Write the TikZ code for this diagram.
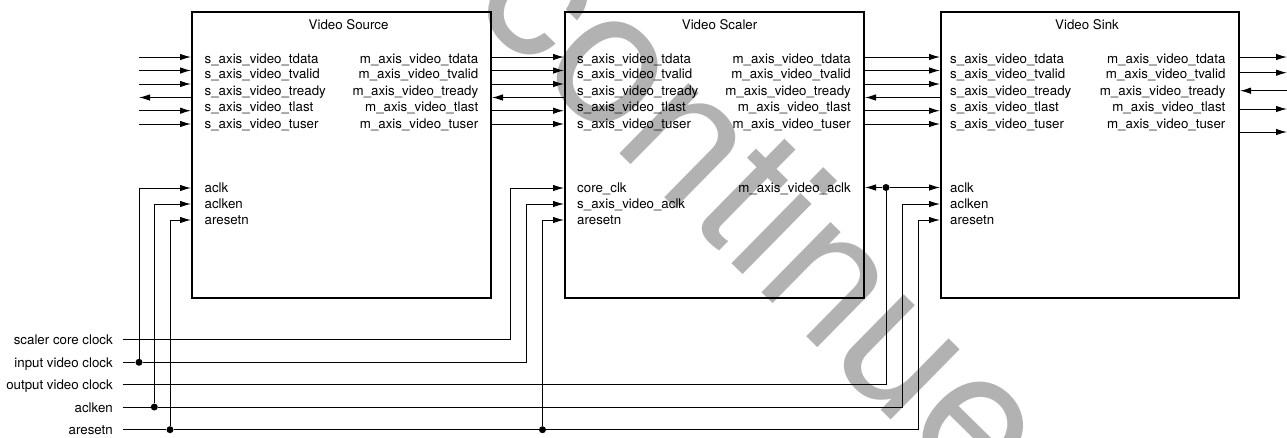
\documentclass[tikz,border=0pt]{standalone}
\usepackage{fontspec}
\setmainfont{TeX Gyre Heros}
\usetikzlibrary{arrows.meta}
\tikzset{
  block/.style={draw=black,line width=2pt,inner sep=0pt,minimum width=#1,minimum height=286pt},
  port/.style={font=\fontsize{13.3}{15}\selectfont,inner sep=0pt},
  title/.style={port,anchor=base},
  sig/.style={line width=1pt,black},
  arr/.style={sig,-{Latex[length=11pt,width=6.5pt]}},
  wire/.style={sig},
  junction/.style={circle,fill=black,inner sep=0pt,minimum size=7pt},
  extlabel/.style={port,anchor=east,inner xsep=9.5pt,text height=10pt,text depth=0pt},
  mark text/.style={font=\fontsize{188}{188}\selectfont,text=black!30,inner sep=0pt}
}
\begin{document}
\begin{tikzpicture}[x=1pt,y=-1pt]
\useasboundingbox (0,0) rectangle (1287,437);
\begin{scope}
\clip (0,0) rectangle (1287,437);
\node[mark text,rotate=-44.5,anchor=center] (wm) at (768,208) {continue};
\end{scope}
% blocks
\node[block=299pt] (src) at (341.5,155) {};
\node[block=299pt] (scl) at (714.5,155) {};
\node[block=298pt] (snk) at (1090,155) {};
\node[title] (tsrc) at (348.6,29) {Video Source};
\node[title] (tscl) at (719.6,29) {Video Scaler};
\node[title] (tsnk) at (1087,29) {Video Sink};
% port labels
\foreach \bx/\lx/\rx in {src/204.5/478.4,scl/577/851,snk/950/1225.6}{
  \foreach \n/\y/\t in {a/63/tdata,b/78.6/tvalid,c/95/tready,d/111/tlast,e/128/tuser}{
    \node[port,anchor=base west] (\bx s\n) at (\lx,\y) {s\_axis\_video\_\t};
    \node[port,anchor=base east] (\bx m\n) at (\rx,\y) {m\_axis\_video\_\t};
  }
}
\node[port,anchor=base west] (p1) at (204.5,192.5) {aclk};
\node[port,anchor=base west] (p2) at (204.5,208.5) {aclken};
\node[port,anchor=base west] (p3) at (204.5,224.5) {aresetn};
\node[port,anchor=base west] (p4) at (577,192.5) {core\_clk};
\node[port,anchor=base west] (p5) at (577,208.5) {s\_axis\_video\_aclk};
\node[port,anchor=base west] (p6) at (577,224.5) {aresetn};
\node[port,anchor=base east] (p7) at (851,192.5) {m\_axis\_video\_aclk};
\node[port,anchor=base west] (p8) at (950,192.5) {aclk};
\node[port,anchor=base west] (p9) at (950,208.5) {aclken};
\node[port,anchor=base west] (p10) at (950,224.5) {aresetn};
% external labels
\node[extlabel] (lcore) at (122.5,339) {scaler core clock};
\node[extlabel] (lin) at (122.5,362.3) {input video clock};
\node[extlabel] (lout) at (122.5,384) {output video clock};
\node[extlabel] (len) at (122.5,407) {aclken};
\node[extlabel] (lrst) at (122.5,429.7) {aresetn};
% stream connectors
\foreach \i/\y in {1/57,2/70.5,3/84,5/110.7,6/124}{
  \coordinate (inA\i) at (139,\y);
  \draw[arr] (inA\i) -- (inA\i -| src.west);
  \coordinate (inB\i) at (src.east |- inA\i);
  \draw[arr] (inB\i) -- (inB\i -| scl.west);
  \coordinate (inC\i) at (scl.east |- inA\i);
  \draw[arr] (inC\i) -- (inC\i -| snk.west);
}
\coordinate (rdyA) at (139,97.5);
\draw[arr] (rdyA -| src.west) -- (rdyA);
\draw[arr] (rdyA -| scl.west) -- (rdyA -| src.east);
\draw[arr] (rdyA -| snk.west) -- (rdyA -| scl.east);
\foreach \i/\y in {1/57,2/72.7,4/109,5/132}{
  \coordinate (outE\i) at (1287,\y);
  \draw[arr] (outE\i -| snk.east) -- (outE\i);
}
\coordinate (outE3) at (1287,90.7);
\draw[arr] (outE3) -- (outE3 -| snk.east);
% junctions
\node[junction] (j1) at (139,362.3) {};
\node[junction] (j2) at (154.3,407) {};
\node[junction] (j3) at (170,429.7) {};
\node[junction] (j4) at (542.5,429.7) {};
\node[junction] (j5) at (886,187.5) {};
% clock distribution
\draw[wire] (lin.east) -- (j1);
\draw[wire] (len.east) -- (j2);
\draw[wire] (lrst.east) -- (j3);
\draw[wire] (j3) -- (j4);
\draw[arr] (j1) |- (src.west |- 0,188);
\draw[arr] (j2) |- (src.west |- 0,204);
\draw[arr] (j3) |- (src.west |- 0,220);
\coordinate (c1) at (510,339);
\coordinate (c2) at (526,362.3);
\draw[arr] (lcore.east) -- (c1) |- (scl.west |- 0,188);
\draw[arr] (j1) -- (c2) |- (scl.west |- 0,204);
\draw[arr] (j4) |- (scl.west |- 0,220);
\coordinate (c3) at (886,384);
\coordinate (c4) at (902,407);
\coordinate (c5) at (918,429.7);
\draw[wire] (lout.east) -- (c3) -- (j5);
\draw[arr] (j5) -- (j5 -| scl.east);
\draw[arr] (j5) -- (j5 -| snk.west);
\draw[arr] (j2) -- (c4) |- (snk.west |- 0,204);
\draw[arr] (j4) -- (c5) |- (snk.west |- 0,220);
\end{tikzpicture}
\end{document}
